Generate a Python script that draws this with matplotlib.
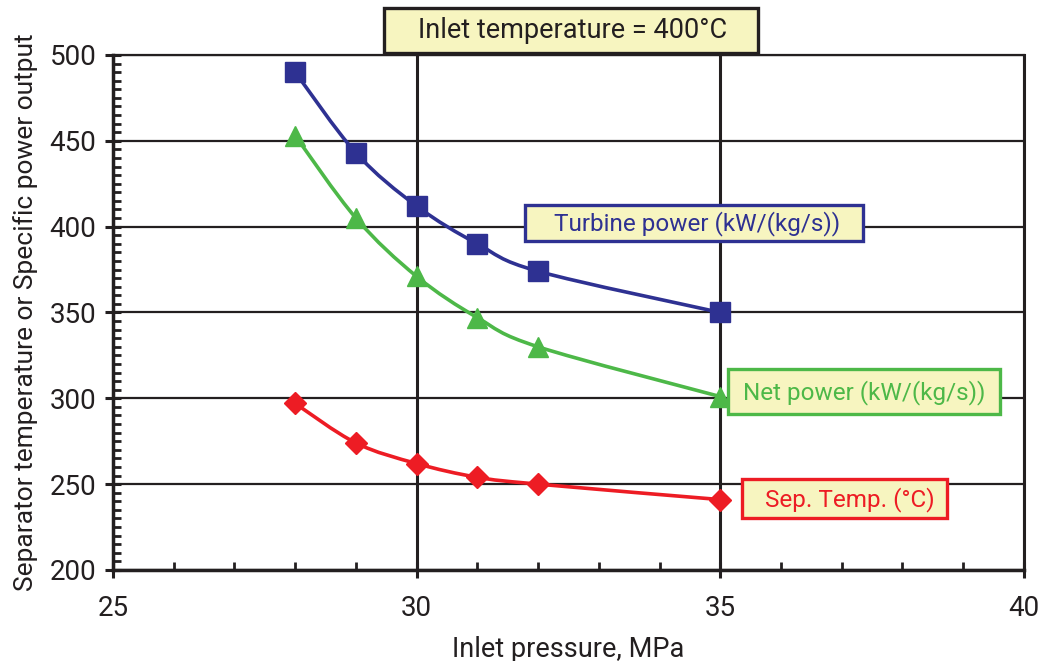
import numpy as np
import matplotlib
matplotlib.use('Agg')
import matplotlib.pyplot as plt
from matplotlib.path import Path
from matplotlib.patches import PathPatch, Rectangle
from matplotlib.ticker import MultipleLocator

plt.rcParams['font.family'] = ['Roboto', 'DejaVu Sans']

# 数据
pressure = [28, 29, 30, 31, 32, 35]
turbine_power = [490, 443, 412, 390, 374, 350]
net_power = [453, 405, 371, 347, 330, 301]
sep_temp = [297, 274, 262, 254, 250, 241]

series_labels = ['Turbine power (kW/(kg/s))', 'Net power (kW/(kg/s))', 'Sep. Temp. (°C)']
title_text = 'Inlet temperature = 400°C'

BLUE = '#2E3192'
GREEN = '#4DB848'
RED = '#ED1C24'
BOXFILL = '#F7F5C0'
INK = '#231F20'


def smooth_path(xs, ys):
    # Catmull-Rom 转贝塞尔曲线，类似 Excel 的平滑线
    pts = np.column_stack([xs, ys]).astype(float)
    n = len(pts)
    verts = [pts[0]]
    codes = [Path.MOVETO]
    for i in range(n - 1):
        p0 = pts[i - 1] if i > 0 else pts[i]
        p1 = pts[i]
        p2 = pts[i + 1]
        p3 = pts[i + 2] if i + 2 < n else pts[i + 1]
        c1 = p1 + (p2 - p0) / 6.0
        c2 = p2 - (p3 - p1) / 6.0
        verts += [c1, c2, p2]
        codes += [Path.CURVE4] * 3
    return Path(verts, codes)


def label_box(ax, x0, x1, y0, y1, tx, ty, text, color, size, z=5):
    ax.add_patch(Rectangle((x0, y0), x1 - x0, y1 - y0, facecolor=BOXFILL, edgecolor=color,
                           linewidth=2.4, zorder=z, clip_on=False))
    ax.text(tx, ty, text, fontsize=size, color=color, ha='center', va='center',
            zorder=z + 1, clip_on=False)


fig = plt.figure(figsize=(10.54, 6.61), dpi=100)
ax = fig.add_axes([0.1072, 0.1377, 0.8643, 0.7791])

ax.set_xlim(25, 40)
ax.set_ylim(200, 500)

ax.xaxis.set_major_locator(MultipleLocator(5))
ax.xaxis.set_minor_locator(MultipleLocator(1))
ax.yaxis.set_major_locator(MultipleLocator(50))
ax.yaxis.set_minor_locator(MultipleLocator(5))

ax.grid(True, which='major', axis='y', color=INK, linewidth=1.6)
ax.grid(True, which='major', axis='x', color=INK, linewidth=2.2)

for side in ['left', 'bottom']:
    ax.spines[side].set_linewidth(2.5)
    ax.spines[side].set_color(INK)
ax.spines['right'].set_linewidth(2.2)
ax.spines['right'].set_color(INK)
ax.spines['top'].set_linewidth(1.6)
ax.spines['top'].set_color(INK)

ax.tick_params(which='major', direction='inout', length=12, width=2.2, color=INK,
               labelsize=20, labelcolor=INK, pad=6)
ax.tick_params(which='minor', direction='in', length=6, width=2, color=INK)
ax.tick_params(axis='x', which='major', pad=12)

ax.set_xlabel('Inlet pressure, MPa', fontsize=19.5, color=INK, labelpad=10)
ax.set_ylabel('Separator temperature or Specific power output', fontsize=19, color=INK, labelpad=8)

for ys, color, marker, ms in [(turbine_power, BLUE, 's', 14),
                              (net_power, GREEN, '^', 15),
                              (sep_temp, RED, 'D', 11)]:
    patch = PathPatch(smooth_path(pressure, ys), facecolor='none', edgecolor=color,
                      linewidth=2.6, zorder=3)
    ax.add_patch(patch)
    ax.plot(pressure, ys, linestyle='none', marker=marker, markersize=ms,
            color=color, zorder=4, clip_on=False)

# 标签框
label_box(ax, 31.78, 37.35, 391.6, 412.6, 34.62, 402, series_labels[0], BLUE, 17.5)
label_box(ax, 35.13, 39.61, 290.9, 317.1, 37.37, 303.5, series_labels[1], GREEN, 17.5)
label_box(ax, 35.36, 38.73, 230.3, 253.0, 37.14, 241.3, series_labels[2], RED, 17.5)
label_box(ax, 29.46, 35.62, 501.2, 527.4, 32.56, 514.3, title_text, INK, 19.5, z=7)

fig.savefig('out.png', dpi=100)
